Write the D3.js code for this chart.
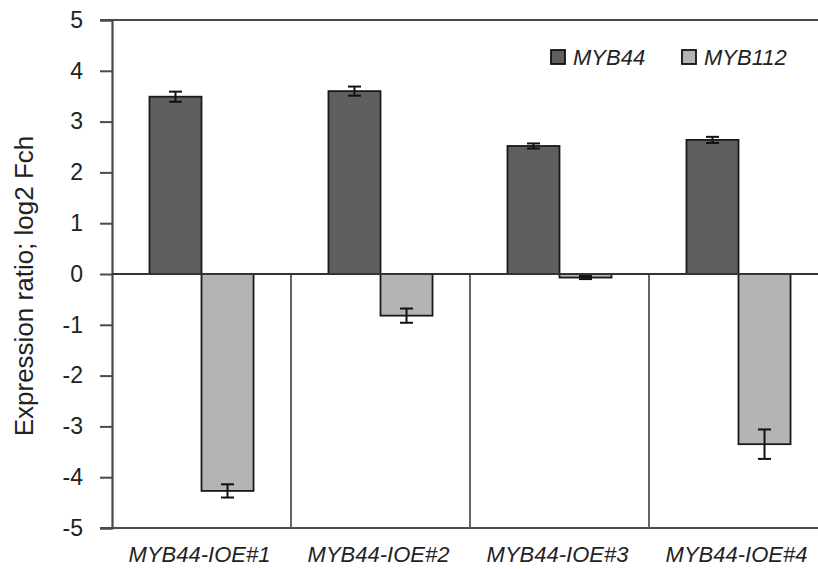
<!DOCTYPE html>
<html>
<head>
<meta charset="utf-8">
<script src="https://cdn.jsdelivr.net/npm/d3@7"></script>
<style>
  html, body { margin: 0; padding: 0; background: #fff; }
  svg { display: block; font-family: "Liberation Sans", Arial, sans-serif; }
</style>
</head>
<body>
<svg id="chart" width="818" height="569"></svg>
<script>
// Categories (lines) and the two genes measured in each
const categories = ["MYB44-IOE#1", "MYB44-IOE#2", "MYB44-IOE#3", "MYB44-IOE#4"];
const seriesNames = ["MYB44", "MYB112"];

// log2 fold change and error per gene
const myb44Values = [3.49, 3.60, 2.52, 2.64];
const myb44Errors = [0.10, 0.09, 0.05, 0.06];
const myb112Values = [-4.27, -0.82, -0.07, -3.35];
const myb112Errors = [0.13, 0.14, 0.03, 0.29];

const yTicks = [5, 4, 3, 2, 1, 0, -1, -2, -3, -4, -5];
const yTitle = "Expression ratio; log2 Fch";

const colors = { MYB44: "#5f5f5f", MYB112: "#b4b4b4" };

const svg = d3.select("#chart");
const W = 818, H = 569;
const plot = { left: 112, right: 828, top: 20, bottom: 528 };

const y = d3.scaleLinear().domain([-5, 5]).range([plot.bottom, plot.top]);
const x = d3.scaleBand().domain(categories).range([plot.left, plot.right]).padding(0);
const xInner = d3.scaleBand().domain(seriesNames).range([0, x.bandwidth()])
  .paddingInner(0).paddingOuter(0.72);

const rows = categories.map((c, i) => ({
  cat: c,
  bars: [
    { name: "MYB44", v: myb44Values[i], e: myb44Errors[i] },
    { name: "MYB112", v: myb112Values[i], e: myb112Errors[i] }
  ]
}));

const axisColor = "#4a4a4a";

// frame lines: top at 5, bottom at -5
[5, -5].forEach(v => {
  svg.append("line")
    .attr("x1", plot.left - 12).attr("x2", W)
    .attr("y1", y(v)).attr("y2", y(v))
    .attr("stroke", axisColor).attr("stroke-width", 2);
});

// category separators below zero
categories.slice(1).forEach(c => {
  svg.append("line")
    .attr("x1", x(c)).attr("x2", x(c))
    .attr("y1", y(0)).attr("y2", y(-5))
    .attr("stroke", "#555").attr("stroke-width", 1.8);
});

// y axis (plain hyphen for negatives)
const yAxis = d3.axisLeft(y).tickValues(yTicks).tickSize(12).tickPadding(17).tickFormat(d => String(d));
const gy = svg.append("g").attr("transform", `translate(${plot.left},0)`).call(yAxis);
gy.select(".domain").attr("stroke", axisColor).attr("stroke-width", 2.2);
gy.selectAll(".tick line").attr("stroke", axisColor).attr("stroke-width", 2);
gy.selectAll(".tick text").attr("font-size", 23).attr("fill", "#222")
  .attr("font-family", "'Liberation Sans', Arial, sans-serif");

// bars
const groups = svg.selectAll("g.cat").data(rows).join("g")
  .attr("class", "cat")
  .attr("transform", d => `translate(${x(d.cat)},0)`);

groups.selectAll("rect").data(d => d.bars).join("rect")
  .attr("x", d => xInner(d.name))
  .attr("width", xInner.bandwidth())
  .attr("y", d => y(Math.max(0, d.v)))
  .attr("height", d => Math.abs(y(d.v) - y(0)))
  .attr("fill", d => colors[d.name])
  .attr("stroke", "#1a1a1a").attr("stroke-width", 1.8);

// zero line
svg.append("line")
  .attr("x1", plot.left).attr("x2", W)
  .attr("y1", y(0)).attr("y2", y(0))
  .attr("stroke", "#333").attr("stroke-width", 1.8);

// error bars
const cap = 6.5;
groups.selectAll("g.err").data(d => d.bars).join("g")
  .attr("class", "err")
  .each(function (d) {
    const g = d3.select(this);
    const cx = xInner(d.name) + xInner.bandwidth() / 2;
    const y1 = y(d.v + d.e), y2 = y(d.v - d.e);
    g.append("line").attr("x1", cx).attr("x2", cx).attr("y1", y1).attr("y2", y2);
    g.append("line").attr("x1", cx - cap).attr("x2", cx + cap).attr("y1", y1).attr("y2", y1);
    g.append("line").attr("x1", cx - cap).attr("x2", cx + cap).attr("y1", y2).attr("y2", y2);
    g.selectAll("line").attr("stroke", "#111").attr("stroke-width", 2);
  });

// category labels
svg.selectAll("text.cat-label").data(categories).join("text")
  .attr("class", "cat-label")
  .attr("x", d => x(d) + x.bandwidth() / 2 - 2)
  .attr("y", 562)
  .attr("text-anchor", "middle")
  .attr("font-size", 22).attr("font-style", "italic").attr("fill", "#222")
  .text(d => d);

// y axis title
svg.append("text")
  .attr("transform", `translate(33,${(plot.top + plot.bottom) / 2 + 12}) rotate(-90)`)
  .attr("text-anchor", "middle")
  .attr("font-size", 26).attr("fill", "#222")
  .text(yTitle);

// legend
const legendPos = [{ name: "MYB44", x: 551 }, { name: "MYB112", x: 682 }];
const lg = svg.selectAll("g.legend").data(legendPos).join("g")
  .attr("class", "legend")
  .attr("transform", d => `translate(${d.x},50)`);
lg.append("rect").attr("width", 14).attr("height", 14)
  .attr("fill", d => colors[d.name]).attr("stroke", "#111").attr("stroke-width", 1.8);
lg.append("text").attr("x", 22).attr("y", 15)
  .attr("font-size", 22).attr("font-style", "italic").attr("fill", "#222")
  .text(d => d.name);
</script>
</body>
</html>
